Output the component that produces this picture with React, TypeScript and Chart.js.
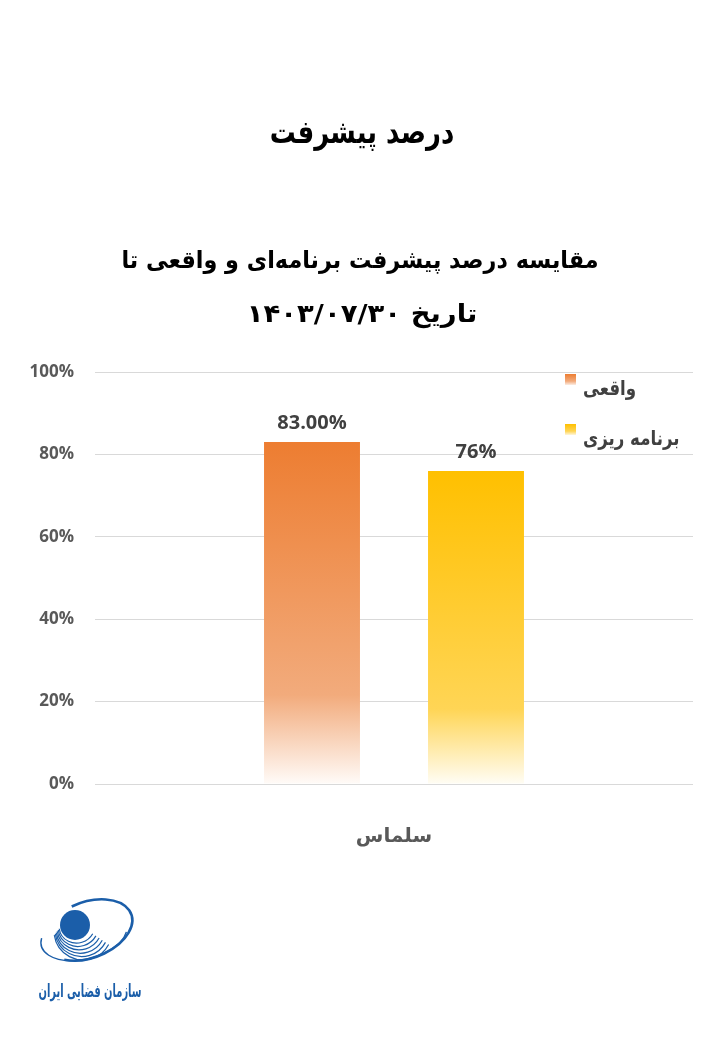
import React, { useEffect, useRef } from "react";
import { Chart, registerables } from "chart.js";

Chart.register(...registerables);

const categories = ["سلماس"];
const seriesNames = ["واقعی", "برنامه ریزی"];
const actualValues = [83];
const plannedValues = [76];
const valueDecimals = [2, 0];
const yTickValues = [0, 20, 40, 60, 80, 100];
const titleText = "درصد پیشرفت";
const subtitleLines = ["مقایسه درصد پیشرفت برنامه‌ای و واقعی تا", "تاریخ ۱۴۰۳/۰۷/۳۰"];
const logoText = "سازمان فضایی ایران";

const orangeStops: [number, string][] = [
  [0, "#ED7D31"],
  [0.74, "#F2AB7C"],
  [1, "#FFFBF8"],
];
const yellowStops: [number, string][] = [
  [0, "#FFC000"],
  [0.76, "#FFD555"],
  [1, "#FFFDF5"],
];

const ARABIC = '"DejaVu Sans", sans-serif';
const LATIN = '"Open Sans", "DejaVu Sans", sans-serif';

function makeGradient(ctx: CanvasRenderingContext2D, top: number, bottom: number, stops: [number, string][]) {
  const g = ctx.createLinearGradient(0, top, 0, bottom);
  stops.forEach(([p, c]) => g.addColorStop(p, c));
  return g;
}

function barBg(stops: [number, string][]) {
  return (context: any) => {
    const chart = context.chart;
    const ys = chart.scales && chart.scales.y;
    if (!ys || !chart.chartArea || context.raw === undefined) return stops[0][1];
    const top = ys.getPixelForValue(context.raw);
    const bottom = ys.getPixelForValue(0);
    return makeGradient(chart.ctx, top, bottom, stops);
  };
}

function drawScaledText(ctx: CanvasRenderingContext2D, text: string, cx: number, y: number, sx: number) {
  ctx.save();
  ctx.translate(cx, y);
  ctx.scale(sx, 1);
  ctx.textAlign = "center";
  ctx.fillText(text, 0, 0);
  ctx.restore();
}

const overlayPlugin = {
  id: "overlay",
  afterDatasetsDraw(chart: any) {
    const ctx: CanvasRenderingContext2D = chart.ctx;
    chart.data.datasets.forEach((ds: any, i: number) => {
      const meta = chart.getDatasetMeta(i);
      meta.data.forEach((el: any, j: number) => {
        ctx.save();
        ctx.font = `bold 20px ${LATIN}`;
        ctx.fillStyle = "#404040";
        ctx.textAlign = "center";
        ctx.textBaseline = "middle";
        ctx.fillText(Number(ds.data[j]).toFixed(valueDecimals[i]) + "%", el.x, el.y - 19);
        ctx.restore();
      });
    });
  },
  afterDraw(chart: any) {
    const ctx: CanvasRenderingContext2D = chart.ctx;
    const area = chart.chartArea;
    ctx.save();
    (ctx as any).direction = "rtl";
    ctx.textBaseline = "alphabetic";
    // Title
    ctx.fillStyle = "#000000";
    ctx.font = `bold 32px ${ARABIC}`;
    drawScaledText(ctx, titleText, 362, 143, 0.81);
    // Subtitle
    ctx.font = `bold 24px ${ARABIC}`;
    drawScaledText(ctx, subtitleLines[0], 360, 268, 0.93);
    ctx.font = `bold 25px ${ARABIC}`;
    drawScaledText(ctx, subtitleLines[1], 362, 322, 1.1);

    // Legend
    const stopsList = [orangeStops, yellowStops];
    seriesNames.forEach((name, i) => {
      const sy = area.top + 2 + i * 50;
      ctx.fillStyle = makeGradient(ctx, sy, sy + 12, [[0, stopsList[i][0][1]], [0.6, stopsList[i][1][1]], [1, "#FFFFFF"]]);
      ctx.fillRect(565, sy, 11, 11);
      ctx.fillStyle = "#404040";
      ctx.font = `bold 20px ${ARABIC}`;
      const w = ctx.measureText(name).width * 0.83;
      drawScaledText(ctx, name, 583 + w / 2, sy + 21, 0.83);
    });

    // Logo
    const blue = "#1B5EA9";
    ctx.fillStyle = blue;
    ctx.strokeStyle = blue;
    ctx.beginPath();
    ctx.arc(75, 925, 15, 0, Math.PI * 2);
    ctx.fill();
    ctx.lineWidth = 1.2;
    for (let k = 0; k < 6; k++) {
      ctx.beginPath();
      ctx.ellipse(77 + k * 1.2, 926 + k * 1.0, 18 + k * 2.2, 17 + k * 2.4, -0.3, Math.PI * 0.25, Math.PI * 1.05);
      ctx.stroke();
    }
    ctx.lineWidth = 2.6;
    ctx.beginPath();
    ctx.ellipse(88, 930, 46, 28, -0.35, -Math.PI * 0.55, Math.PI * 0.75);
    ctx.stroke();
    ctx.lineWidth = 1.4;
    ctx.beginPath();
    ctx.ellipse(84, 935, 44, 24, -0.25, Math.PI * 0.1, Math.PI * 1.1);
    ctx.stroke();
    ctx.font = `bold 18px ${ARABIC}`;
    drawScaledText(ctx, logoText, 90, 997, 0.55);
    ctx.restore();
  },
};

export default function App() {
  const ref = useRef<HTMLCanvasElement>(null);
  useEffect(() => {
    if (!ref.current) return;
    const chart = new Chart(ref.current, {
      type: "bar",
      data: {
        labels: categories,
        datasets: [
          {
            label: seriesNames[0],
            data: actualValues,
            backgroundColor: barBg(orangeStops),
            borderWidth: 0,
            categoryPercentage: 0.5485,
            barPercentage: 0.585,
          },
          {
            label: seriesNames[1],
            data: plannedValues,
            backgroundColor: barBg(yellowStops),
            borderWidth: 0,
            categoryPercentage: 0.5485,
            barPercentage: 0.585,
          },
        ],
      },
      plugins: [overlayPlugin],
      options: {
        animation: false,
        responsive: false,
        devicePixelRatio: 1,
        layout: { padding: { top: 372, right: 27, left: 0, bottom: 0 } },
        plugins: {
          legend: { display: false },
          title: { display: false },
          tooltip: { enabled: false },
        },
        scales: {
          x: {
            grid: { display: false },
            border: { display: false },
            ticks: {
              padding: 33,
              color: "#595959",
              font: { family: ARABIC, size: 20, weight: "bold" },
            },
            afterFit: (scale: any) => {
              scale.height = 256;
            },
          },
          y: {
            min: 0,
            max: 100,
            border: { display: false },
            grid: { color: "#D9D9D9", lineWidth: 1, drawTicks: false },
            afterBuildTicks: (scale: any) => {
              scale.ticks = yTickValues.map((v) => ({ value: v }));
            },
            ticks: {
              padding: 21,
              color: "#595959",
              font: { family: LATIN, size: 17, weight: "bold" },
              callback: (v: any) => v + "%",
            },
            afterFit: (scale: any) => {
              scale.width = 95;
            },
          },
        },
      } as any,
    });
    return () => chart.destroy();
  }, []);
  return (
    <div style={{ position: "absolute", left: 0, top: 0, width: 720, height: 1040, background: "#fff" }}>
      <canvas ref={ref} width={720} height={1040} style={{ display: "block" }} />
    </div>
  );
}
